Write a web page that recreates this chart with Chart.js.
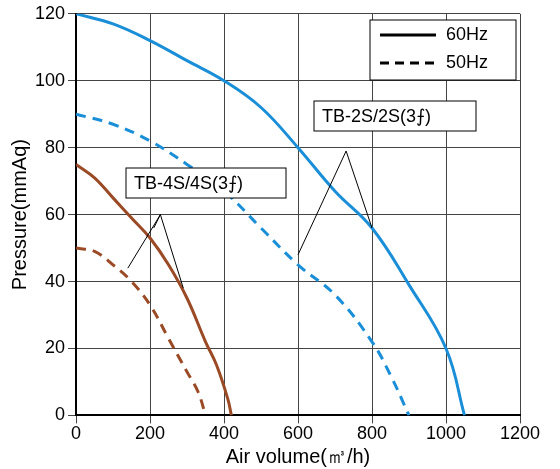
<!DOCTYPE html><html><head><script src="https://cdn.jsdelivr.net/npm/chart.js@4"></script>
<style>body{margin:0;background:#fff}#w{width:560px;height:469px}</style></head><body><div id="w"><canvas id="c"></canvas></div>
<script>
const xTicks=[0,200,400,600,800,1000,1200];
const yTicks=[0,20,40,60,80,100,120];
const tb2s60=[[0,120],[100,117],[200,112],[300,106],[400,100],[500,92],[600,80],[700,67],[800,56],[900,39],[1000,20],[1050,0]];
const tb2s50=[[0,90],[100,87],[200,82],[300,75],[400,67],[500,56],[600,45],[700,36],[800,22],[850,12],[900,0]];
const tb4s60=[[0,75],[50,71],[100,65],[150,59],[200,53],[250,45],[300,35],[350,22],[380,15],[410,5],[420,0]];
const tb4s50=[[0,50],[50,49],[100,45],[150,40],[200,33],[250,23],[300,13],[330,7],[350,0]];
const blue='#1a8fd8',brown='#9a4a25';
const pts=a=>a.map(p=>({x:p[0],y:p[1]}));
const ds=(d,c,dash)=>({data:pts(d),borderColor:c,borderWidth:3,borderDash:dash,pointRadius:0,tension:0.4,fill:false});
const annot={id:'annot',afterDraw(ch){const x=ch.scales.x,y=ch.scales.y,g=ch.ctx;g.save();
g.font='18px "Liberation Sans", Arial';g.strokeStyle='#000';g.fillStyle='#000';g.lineWidth=1;
function box(txt,bx,by,bw,bh,hub,ends){g.fillStyle='#fff';g.fillRect(bx,by,bw,bh);g.strokeRect(bx,by,bw,bh);g.fillStyle='#000';g.textBaseline='middle';g.fillText(txt,bx+8,by+bh/2+1);
ends.forEach(e=>{g.beginPath();g.moveTo(x.getPixelForValue(hub[0]),y.getPixelForValue(hub[1]));g.lineTo(x.getPixelForValue(e[0]),y.getPixelForValue(e[1]));g.stroke();});}
box('TB-2S/2S(3\u2A0D)',314,101,162,30,[730,79],[[600,48],[800,56]]);
box('TB-4S/4S(3\u2A0D)',126,168,160,30,[228,60],[[140,44],[290,38],[210,56]]);
g.fillStyle='#fff';const lx=370,ly=20;g.fillRect(lx,ly,146,60);g.strokeRect(lx,ly,146,60);
g.lineWidth=3;g.beginPath();g.moveTo(lx+10,ly+15);g.lineTo(lx+66,ly+15);g.stroke();
g.setLineDash([9,6]);g.beginPath();g.moveTo(lx+10,ly+43);g.lineTo(lx+66,ly+43);g.stroke();g.setLineDash([]);
g.fillStyle='#000';g.textBaseline='middle';g.fillText('60Hz',lx+76,ly+15);g.fillText('50Hz',lx+76,ly+43);
g.restore();}};
const F='"Liberation Sans", Arial';
new Chart(document.getElementById('c'),{type:'line',data:{datasets:[ds(tb2s60,blue,[]),ds(tb2s50,blue,[10,7]),ds(tb4s60,brown,[]),ds(tb4s50,brown,[10,7])]},
options:{responsive:true,maintainAspectRatio:false,animation:false,layout:{padding:{right:40,top:6,left:8,bottom:0}},
plugins:{legend:{display:false},tooltip:{enabled:false}},
scales:{x:{type:'linear',min:0,max:1200,afterBuildTicks:a=>{a.ticks=xTicks.map(v=>({value:v}))},grid:{color:'#444',lineWidth:1},border:{color:'#000',width:2},ticks:{color:'#000',font:{size:18,family:F},maxRotation:0,padding:0,callback:v=>String(v)},title:{display:true,text:'Air volume(㎥/h)',color:'#000',font:{size:20,family:F},padding:0}},
y:{min:0,max:120,afterBuildTicks:a=>{a.ticks=yTicks.map(v=>({value:v}))},grid:{color:'#444',lineWidth:1},border:{color:'#000',width:2},ticks:{color:'#000',font:{size:18,family:F},callback:v=>String(v)},title:{display:true,text:'Pressure(mmAq)',color:'#000',font:{size:20,family:F},padding:0}}}},
plugins:[annot]});
</script></body></html>
